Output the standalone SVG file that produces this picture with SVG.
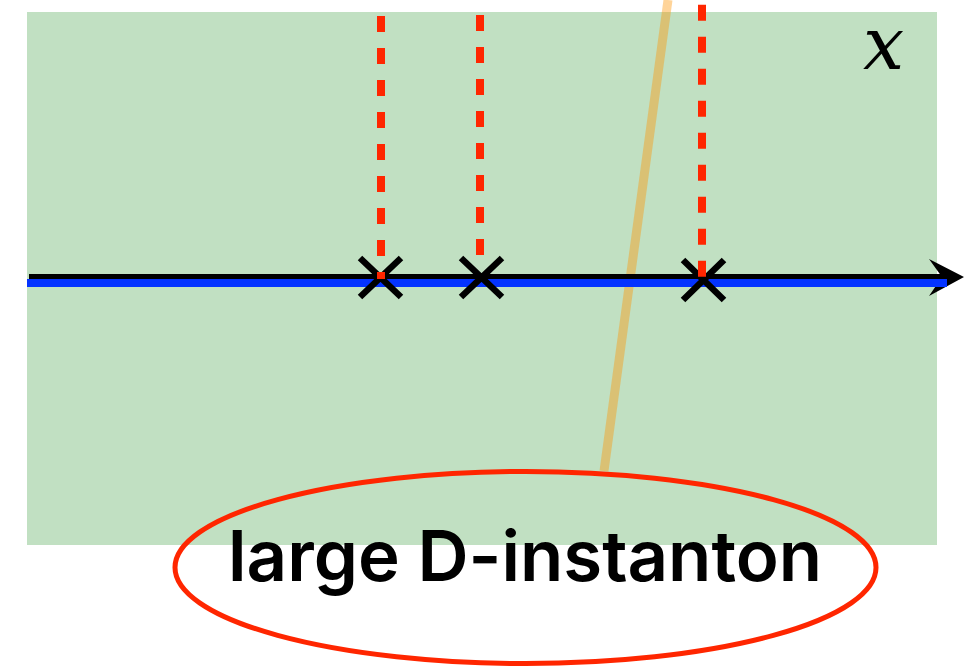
<svg xmlns="http://www.w3.org/2000/svg" width="971" height="666" viewBox="0 0 971 666">
<style>
.dash{stroke:#ff2600;stroke-width:8;stroke-dasharray:16 16;fill:none}
.cross{stroke:#000;stroke-width:6.5;fill:none}
</style>
<rect id="region" x="27" y="12" width="910" height="533" fill="#c1e0c2"/>
<g id="label-x"><text x="863" y="69" font-family="DejaVu Serif, serif" font-style="italic" font-size="73" fill="#000">x</text></g>
<g id="connectors">
<line x1="668" y1="0" x2="604" y2="471" stroke="rgb(255,147,0)" stroke-opacity="0.4" stroke-width="9"/>
<line x1="29" y1="276.5" x2="945" y2="276.5" stroke="#000" stroke-width="5"/>
<path d="M929,259 L964,277 L929,296 L942,277 Z" fill="#000"/>
<line x1="27" y1="283" x2="947" y2="283" stroke="#0433ff" stroke-width="8"/>
<line class="dash" x1="480" y1="15" x2="480" y2="256"/>
</g>
<g id="cross1"><path class="cross" d="M360,258 L401,297 M401,258 L360,297"/></g>
<g id="cross2"><path class="cross" d="M461,258 L502,297 M502,258 L461,297"/></g>
<g id="cross3"><path class="cross" d="M683,260 L724,300 M724,260 L683,300"/></g>
<g id="dashes">
<line class="dash" x1="381" y1="16" x2="381" y2="279"/>
<line class="dash" x1="702" y1="4.7" x2="702" y2="277"/>
</g>
<g id="large-d-instanton">
<ellipse cx="525.5" cy="567.5" rx="350.5" ry="96" fill="none" stroke="#ff2600" stroke-width="5"/>
<text x="228" y="581" font-family="Inter, Liberation Sans, Arial, sans-serif" font-weight="600" font-size="70" textLength="594" lengthAdjust="spacingAndGlyphs" fill="#000">large D-instanton</text>
</g>
</svg>
